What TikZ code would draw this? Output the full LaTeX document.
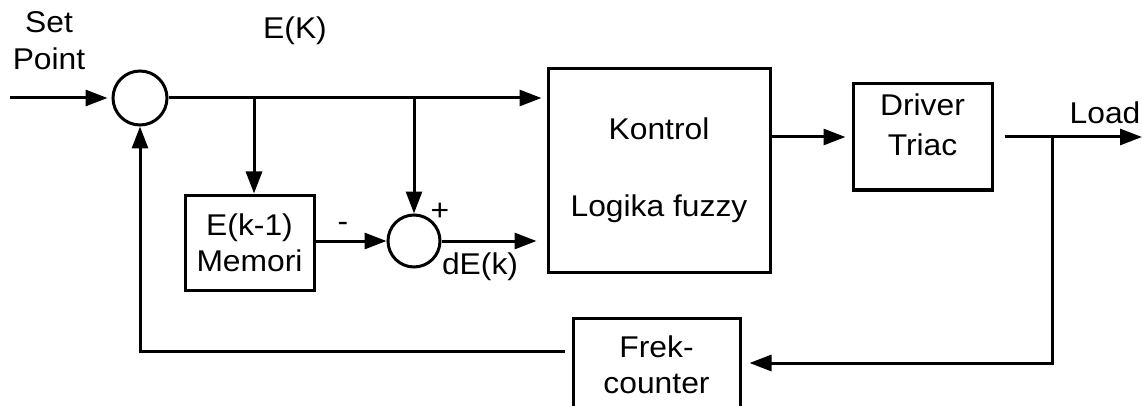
\documentclass[tikz,border=0pt]{standalone}
\usepackage{fontspec}
\setmainfont{Liberation Sans}[FakeStretch=1.06]
\usetikzlibrary{arrows.meta}

\begin{document}
\begin{tikzpicture}[
  x=1pt, y=-1pt,
  font=\fontsize{30}{36}\selectfont,
  >={Triangle[length=22pt,width=16pt]},
  blok/.style={draw, line width=3pt, inner sep=0pt, align=center},
  sum/.style={draw, circle, line width=3pt, inner sep=0pt},
  flow/.style={->, line width=3pt},
  lab/.style={inner sep=0pt, align=center},
]
\useasboundingbox (0,0) rectangle (1142,406);

\node[sum, minimum size=54pt] (sum1) at (140,98) {};
\node[sum, minimum size=52pt] (sum2) at (414,241) {};

\node[blok, minimum width=129pt, minimum height=95pt] (memori)
  at (249.5,242.5) {E(k-1)\\Memori};
\node[blok, minimum width=222pt, minimum height=203pt] (kontrol)
  at (659,170.5) {Kontrol\\[41pt]Logika fuzzy};
\node[blok, minimum width=139pt, minimum height=106pt,
      label={[lab, yshift=12pt]center:Driver\\[4pt]Triac}] (driver)
  at (922.5,137) {};
\node[blok, minimum width=167pt, minimum height=94pt] (frek)
  at (656.5,365) {Frek-\\counter};

\node[lab] (setpoint) at (49,41) {Set\\[1pt]Point};
\node[lab] (ek) at (295,31) {E(K)};
\node[lab] (minus) at (343,227) {-};
\node[lab] (plus) at (440,212) {+};
\node[lab] (dek) at (480,267) {dE(k)};
\node[lab] (load) at (1105,113) {Load};

\coordinate (sp) at (10,98);
\coordinate (tap1) at (254,98);
\coordinate (tap2) at (sum2 |- sum1);
\coordinate (tap3) at (1052,137);
\coordinate (out) at (1142,137);
\coordinate (ret) at (1052,363);
\coordinate (fb) at (sum1 |- 0,351);

\draw[flow, shorten >=4pt] (sp) -- (sum1);
\draw[flow, shorten >=5pt] (sum1) -- (sum1 -| kontrol.west);
\draw[flow] (tap1) -- (tap1 |- memori.north);
\draw[flow] (tap2) -- (sum2);
\draw[flow] (memori.east |- sum2) -- (sum2);
\draw[flow, shorten >=10pt] (sum2) -- (sum2 -| kontrol.west);
\draw[flow, shorten >=6pt] (kontrol.east |- driver) -- (driver);
\draw[flow, shorten <=11pt] (driver) -- (out);
\draw[flow, shorten >=8pt] (tap3) -- (ret) -- (ret -| frek.east);
\draw[flow, shorten <=7pt] (frek.west |- fb) -- (fb) -- (sum1);
\end{tikzpicture}
\end{document}
